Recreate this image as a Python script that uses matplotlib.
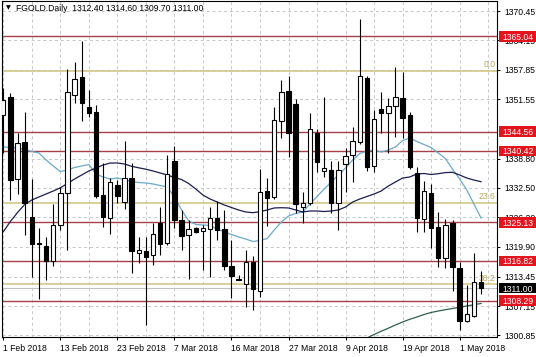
import matplotlib
matplotlib.use("Agg")
import matplotlib.pyplot as plt
import matplotlib.transforms as mtrans
from matplotlib.patches import Rectangle
import numpy as np

# ---------------- data ----------------
opens = [1348.15, 1351.94, 1334.34, 1342.28, 1326.19, 1320.61, 1320.11, 1316.89, 1324.54, 1331.34,
         1352.44, 1356.37, 1349.93, 1348.86, 1330.98, 1325.97, 1333.12, 1329.55, 1334.56, 1318.46,
         1318.96, 1318.10, 1324.90, 1320.61, 1338.35, 1325.61, 1322.39, 1323.83, 1323.25, 1323.68,
         1326.11, 1323.68, 1315.74, 1312.81, 1311.81, 1316.53, 1310.45, 1331.84, 1330.62, 1346.86,
         1353.30, 1350.43, 1328.40, 1329.19, 1344.35, 1336.20, 1336.34, 1329.33, 1337.63, 1339.56,
         1342.28, 1356.16, 1337.27, 1349.43, 1348.65, 1350.15, 1351.72, 1348.15, 1335.77, 1325.76,
         1331.34, 1324.18, 1317.39, 1324.90, 1315.24, 1304.01, 1305.01, 1312.40]
highs = [1353.87, 1352.94, 1344.21, 1348.86, 1334.34, 1323.97, 1322.04, 1328.98, 1332.77, 1358.02,
         1359.45, 1364.03, 1353.51, 1350.29, 1337.92, 1334.56, 1334.20, 1342.64, 1337.92, 1322.04,
         1322.04, 1324.90, 1328.47, 1339.56, 1341.49, 1327.76, 1325.61, 1324.18, 1324.54, 1328.47,
         1329.76, 1327.76, 1321.32, 1313.81, 1319.18, 1317.89, 1336.49, 1334.56, 1349.93, 1355.66,
         1356.51, 1351.51, 1331.62, 1348.65, 1345.07, 1351.94, 1338.35, 1338.35, 1340.99, 1345.64,
         1368.85, 1356.51, 1349.22, 1353.15, 1351.72, 1358.52, 1357.44, 1348.86, 1337.06, 1334.05,
         1333.34, 1327.40, 1325.83, 1325.61, 1316.67, 1311.66, 1318.46, 1314.60]
lows = [1339.92, 1329.91, 1331.19, 1322.39, 1313.45, 1308.59, 1312.74, 1315.74, 1323.47, 1319.18,
        1350.65, 1346.93, 1347.79, 1330.26, 1324.04, 1322.54, 1329.19, 1327.90, 1314.31, 1316.31,
        1303.08, 1315.96, 1318.10, 1320.25, 1323.83, 1319.18, 1312.95, 1322.90, 1314.88, 1313.45,
        1321.32, 1314.88, 1308.95, 1312.74, 1307.02, 1306.30, 1309.02, 1324.33, 1330.05, 1343.14,
        1339.06, 1327.19, 1325.04, 1328.83, 1335.99, 1334.77, 1327.04, 1323.47, 1331.69, 1333.84,
        1341.92, 1336.13, 1335.99, 1344.35, 1339.92, 1343.50, 1343.14, 1336.49, 1323.11, 1323.11,
        1319.53, 1315.60, 1315.39, 1310.45, 1302.01, 1303.80, 1304.73, 1309.70]
closes = [1351.36, 1334.20, 1342.07, 1329.19, 1320.46, 1320.39, 1316.82, 1324.54, 1331.34, 1353.01,
          1355.80, 1350.65, 1348.50, 1330.76, 1326.19, 1333.70, 1330.83, 1334.56, 1318.96, 1319.18,
          1317.60, 1322.61, 1320.46, 1335.41, 1325.61, 1322.25, 1323.68, 1323.11, 1323.83, 1326.11,
          1323.47, 1315.81, 1313.67, 1313.02, 1316.53, 1310.74, 1331.55, 1330.41, 1347.07, 1353.15,
          1344.21, 1329.05, 1329.19, 1345.07, 1338.13, 1336.84, 1329.33, 1336.34, 1339.35, 1342.57,
          1356.51, 1337.06, 1347.22, 1348.50, 1350.08, 1352.08, 1347.43, 1337.06, 1325.97, 1331.84,
          1323.83, 1317.39, 1324.54, 1315.60, 1304.01, 1305.44, 1312.38, 1311.00]

ma_fast = [1341.28, 1341.17, 1341.06, 1340.74, 1340.31, 1339.99, 1338.49, 1337.20, 1336.02, 1336.34,
           1336.88, 1337.20, 1337.52, 1335.48, 1334.84, 1334.41, 1334.62, 1334.30, 1333.83, 1333.66,
           1333.55, 1333.34, 1333.01, 1332.69, 1330.55, 1327.76, 1325.40, 1324.65, 1324.54, 1324.43,
           1323.68, 1323.04, 1322.50, 1321.96, 1321.53, 1321.00, 1321.21, 1321.64, 1323.46, 1325.18,
           1326.47, 1327.01, 1327.33, 1329.04, 1330.65, 1332.26, 1333.77, 1335.27, 1336.77, 1338.49,
           1339.88, 1340.42, 1340.63, 1340.20, 1340.63, 1341.28, 1342.67, 1343.21, 1342.46, 1341.81,
           1341.17, 1339.99, 1338.81, 1336.55, 1334.41, 1332.05, 1329.04, 1326.04]
ma_mid = [1323.10, 1325.29, 1327.22, 1328.94, 1329.90, 1330.55, 1331.19, 1331.83, 1332.52, 1333.44,
          1334.41, 1335.27, 1336.13, 1336.77, 1337.41, 1337.84, 1337.84, 1337.63, 1337.13, 1336.81,
          1336.51, 1336.13, 1335.70, 1335.27, 1334.73, 1334.30, 1333.44, 1332.26, 1330.97, 1330.12,
          1329.47, 1328.83, 1328.29, 1327.76, 1327.33, 1327.18, 1327.39, 1327.76, 1328.19, 1328.25,
          1328.19, 1327.76, 1327.33, 1327.54, 1327.54, 1327.43, 1327.54, 1327.76, 1328.40, 1329.47,
          1330.12, 1330.65, 1331.19, 1331.83, 1332.91, 1333.77, 1334.62, 1334.84, 1335.48, 1335.59,
          1335.37, 1335.55, 1335.78, 1335.85, 1335.27, 1334.62, 1334.19, 1333.83]
ma_slow_start = 50
ma_slow = [1299.54, 1300.29, 1301.04, 1301.73, 1302.39, 1303.08, 1303.72, 1304.30, 1304.79, 1305.33,
           1305.76, 1306.08, 1306.36, 1306.62, 1306.88, 1307.16, 1307.43, 1307.69]

level_prices = [1365.04, 1344.56, 1340.42, 1325.13, 1316.82, 1308.29]
fib_names = ["0.0", "23.6", "38.2"]
fib_prices = [1357.60, 1329.32, 1311.81]
last_price = 1311.00

y_ticks = [1370.45, 1364.15, 1357.85, 1351.55, 1338.80, 1332.50,
           1326.20, 1319.90, 1313.45, 1307.15, 1300.85]
date_label_bars = [0, 8, 16, 24, 32, 40, 48, 56, 64]
date_labels = ["1 Feb 2018", "13 Feb 2018", "23 Feb 2018", "7 Mar 2018", "16 Mar 2018",
               "27 Mar 2018", "9 Apr 2018", "19 Apr 2018", "1 May 2018"]
title = "FGOLD.Daily  1312.40 1314.60 1309.70 1311.00"

# ---------------- figure ----------------
FONT = ["Liberation Sans", "DejaVu Sans"]
plt.rcParams["font.family"] = FONT
W, H = 536, 357
fig = plt.figure(figsize=(W / 100, H / 100), dpi=100)
fig.patch.set_facecolor("white")
ax = fig.add_axes([2 / W, (H - 337) / H, 495 / W, 336 / H])
ax.set_facecolor("white")

n = len(opens)
x = np.arange(n)
ax.set_xlim(-0.18, 69.24)
ax.set_ylim(1300.50, 1372.61)

# grid
grid_kw = dict(color="#c6c6c6", lw=0.7, ls=(0, (3, 3)))
ax.set_yticks(y_ticks)
ax.set_yticklabels([f"{v:.2f}" for v in y_ticks])
ax.set_xticks(date_label_bars)
ax.set_xticklabels(date_labels)
ax.set_xticks(np.arange(0, 70, 4), minor=True)
ax.grid(True, which="major", axis="y", **grid_kw)
ax.grid(True, which="both", axis="x", **grid_kw)
ax.set_axisbelow(True)

ax.yaxis.tick_right()
ax.tick_params(axis="y", which="major", direction="out", length=2.5, width=0.7,
               pad=2.5, labelsize=6.2, colors="black")
ax.tick_params(axis="x", which="major", direction="out", length=2.5, width=0.7,
               pad=2.5, labelsize=6.2, colors="black")
ax.tick_params(axis="x", which="minor", length=0)
for lab in ax.get_xticklabels():
    lab.set_horizontalalignment("left")
for sp in ax.spines.values():
    sp.set_linewidth(0.8)
    sp.set_color("black")

# horizontal levels
for p in level_prices:
    ax.axhline(p, color="#a8404a", lw=1.0, zorder=2)
for name, p in zip(fib_names, fib_prices):
    ax.axhline(p, color="#cfc47e", lw=1.1, zorder=2)
    ax.text(69.0, p + 0.35, name, color="#b9a95c", fontsize=6.2, ha="right",
            va="bottom", zorder=3)
ax.axhline(last_price, color="#c0c0c0", lw=0.8, zorder=2)

# moving averages
ax.plot(x, ma_fast, color="#6aaac8", lw=0.9, zorder=3)
ax.plot(x, ma_mid, color="#1b1f4f", lw=0.9, zorder=3)
ax.plot(np.arange(ma_slow_start, ma_slow_start + len(ma_slow)), ma_slow,
        color="#2f5f50", lw=0.9, zorder=3)

# candles
o = np.array(opens); c = np.array(closes); h = np.array(highs); l = np.array(lows)
up = c >= o
ax.vlines(x, l, h, color="black", lw=0.8, zorder=4)
body_lo = np.minimum(o, c)
body_h = np.maximum(np.abs(c - o), 0.15)
ax.bar(x[up], body_h[up], bottom=body_lo[up], width=0.62, color="white",
       edgecolor="black", linewidth=0.8, zorder=5)
ax.bar(x[~up], body_h[~up], bottom=body_lo[~up], width=0.62, color="black",
       edgecolor="black", linewidth=0.8, zorder=5)

# title
ax.text(0.008, 0.979, "\u25bc", transform=ax.transAxes, fontsize=4.5, va="center",
        ha="left", color="black", family=["DejaVu Sans"], zorder=6)
ax.text(0.029, 0.979, title, transform=ax.transAxes, fontsize=6.2, va="center",
        ha="left", color="black", zorder=6)

# price boxes on right axis
bt = mtrans.blended_transform_factory(fig.transFigure, ax.transData)
box_h = 2.3
def price_box(p, fc):
    r = Rectangle((499 / W, p - box_h / 2), 37 / W, box_h, transform=bt,
                  facecolor=fc, edgecolor="none", clip_on=False, zorder=20)
    fig.add_artist(r)
    fig.text(502 / W, 0, f"{p:.2f}", transform=bt, color="white", fontsize=6.2,
             va="center_baseline", ha="left", zorder=21).set_y(p)

for p in level_prices:
    price_box(p, "#e3141c")
price_box(last_price, "black")

fig.savefig("out.png", dpi=100, facecolor="white")
